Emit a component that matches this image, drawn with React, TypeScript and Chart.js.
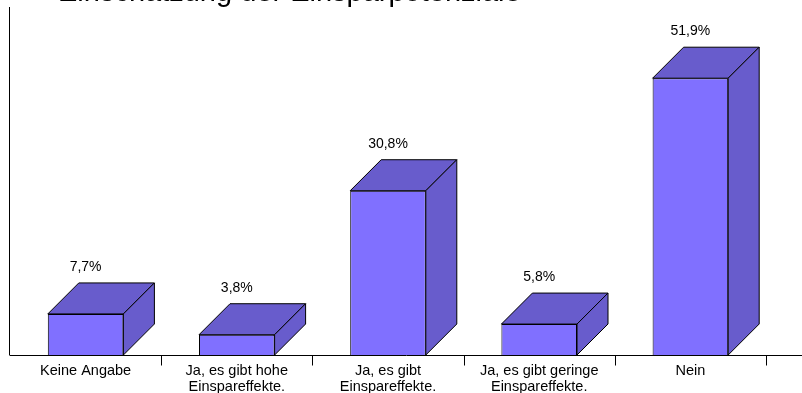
import React, { useEffect, useRef } from 'react';
import { Chart, registerables } from 'chart.js';

Chart.register(...registerables);

// Survey answers and their shares (percent)
const categories: (string | string[])[] = [
  'Keine Angabe',
  ['Ja, es gibt hohe', 'Einspareffekte.'],
  ['Ja, es gibt', 'Einspareffekte.'],
  ['Ja, es gibt geringe', 'Einspareffekte.'],
  'Nein',
];
const shares: number[] = [7.7, 3.8, 30.8, 5.8, 51.9];
const titleText = 'Einschätzung der Einsparpotenziale';
const yMax = 60;

const FONT = "'Liberation Sans', Arial, Helvetica, sans-serif";
const DEPTH = 31;
const FRONT = 'rgb(128,112,255)';
const SHADE = 'rgb(104,92,204)';

const fmt = (v: number) => v.toFixed(1).replace('.', ',') + '%';

// Draws the floor line, the left wall edge, category separators,
// and the extruded top/side faces of every bar plus its value label.
const boxPlugin = {
  id: 'box3d',
  beforeDatasetsDraw(chart: any) {
    const { ctx, chartArea } = chart;
    const xs = chart.scales.x;
    const base = Math.round(chartArea.bottom) + 0.5;
    ctx.save();
    ctx.strokeStyle = '#000';
    ctx.lineWidth = 1;
    // left wall edge
    ctx.beginPath();
    ctx.moveTo(Math.round(chartArea.left) - 0.5, 7);
    ctx.lineTo(Math.round(chartArea.left) - 0.5, base);
    ctx.stroke();
    // separators between categories
    for (let i = 0; i < categories.length; i++) {
      const px = Math.round(xs.getPixelForValue(i + 0.5)) + 0.5;
      ctx.beginPath();
      ctx.moveTo(px, base);
      ctx.lineTo(px, base + 10);
      ctx.stroke();
    }
    ctx.restore();
  },
  afterDatasetsDraw(chart: any) {
    const { ctx, chartArea } = chart;
    const meta = chart.getDatasetMeta(0);
    ctx.save();
    ctx.strokeStyle = '#000';
    ctx.lineWidth = 1;
    ctx.lineJoin = 'miter';
    meta.data.forEach((bar: any, i: number) => {
      const { x, y, base, width } = bar.getProps(['x', 'y', 'base', 'width'], true);
      const l = x - width / 2;
      const r = x + width / 2;
      // top face
      ctx.beginPath();
      ctx.moveTo(l, y);
      ctx.lineTo(l + DEPTH, y - DEPTH);
      ctx.lineTo(r + DEPTH, y - DEPTH);
      ctx.lineTo(r, y);
      ctx.closePath();
      ctx.fillStyle = SHADE;
      ctx.fill();
      ctx.stroke();
      // side face
      ctx.beginPath();
      ctx.moveTo(r, y);
      ctx.lineTo(r + DEPTH, y - DEPTH);
      ctx.lineTo(r + DEPTH, base - DEPTH);
      ctx.lineTo(r, base);
      ctx.closePath();
      ctx.fillStyle = SHADE;
      ctx.fill();
      ctx.stroke();
      // value label
      ctx.fillStyle = '#000';
      ctx.font = `14px ${FONT}`;
      ctx.textAlign = 'center';
      ctx.textBaseline = 'middle';
      ctx.fillText(fmt(shares[i]), x, y - DEPTH - 16);
    });
    // floor line
    const b = Math.round(chartArea.bottom) + 0.5;
    ctx.beginPath();
    ctx.moveTo(chartArea.left, b);
    ctx.lineTo(chartArea.right + DEPTH + 6, b);
    ctx.stroke();
    ctx.restore();
  },
  afterDraw(chart: any) {
    const { ctx } = chart;
    ctx.save();
    ctx.fillStyle = '#000';
    ctx.font = `29px ${FONT}`;
    ctx.textAlign = 'left';
    ctx.textBaseline = 'alphabetic';
    ctx.fillText(titleText, 58, 1);
    ctx.restore();
  },
};

export default function App() {
  const canvasRef = useRef<HTMLCanvasElement | null>(null);

  useEffect(() => {
    const canvas = canvasRef.current;
    if (!canvas) return;
    const chart = new Chart(canvas, {
      type: 'bar',
      data: {
        labels: categories,
        datasets: [
          {
            data: shares,
            backgroundColor: FRONT,
            borderColor: '#000',
            borderWidth: 1,
            barPercentage: 0.5,
            categoryPercentage: 1,
          },
        ],
      },
      options: {
        responsive: false,
        animation: false,
        layout: { padding: { left: 10, right: 36, top: 35, bottom: 0 } },
        plugins: {
          legend: { display: false },
          tooltip: { enabled: false },
          title: { display: false },
        },
        scales: {
          x: {
            offset: true,
            grid: { display: false, drawTicks: false },
            border: { display: false },
            ticks: {
              padding: 8,
              maxRotation: 0,
              autoSkip: false,
              color: '#000',
              font: { family: FONT, size: 14.5, lineHeight: 16 / 14.5 },
            },
            afterFit: (scale: any) => {
              scale.height = 38;
            },
          },
          y: {
            display: false,
            min: 0,
            max: yMax,
          },
        },
      },
      plugins: [boxPlugin],
    });
    return () => chart.destroy();
  }, []);

  return (
    <div style={{ position: 'absolute', left: 0, top: 0, width: 802, height: 393, background: '#fff' }}>
      <canvas ref={canvasRef} width={802} height={393} style={{ display: 'block' }} />
    </div>
  );
}
